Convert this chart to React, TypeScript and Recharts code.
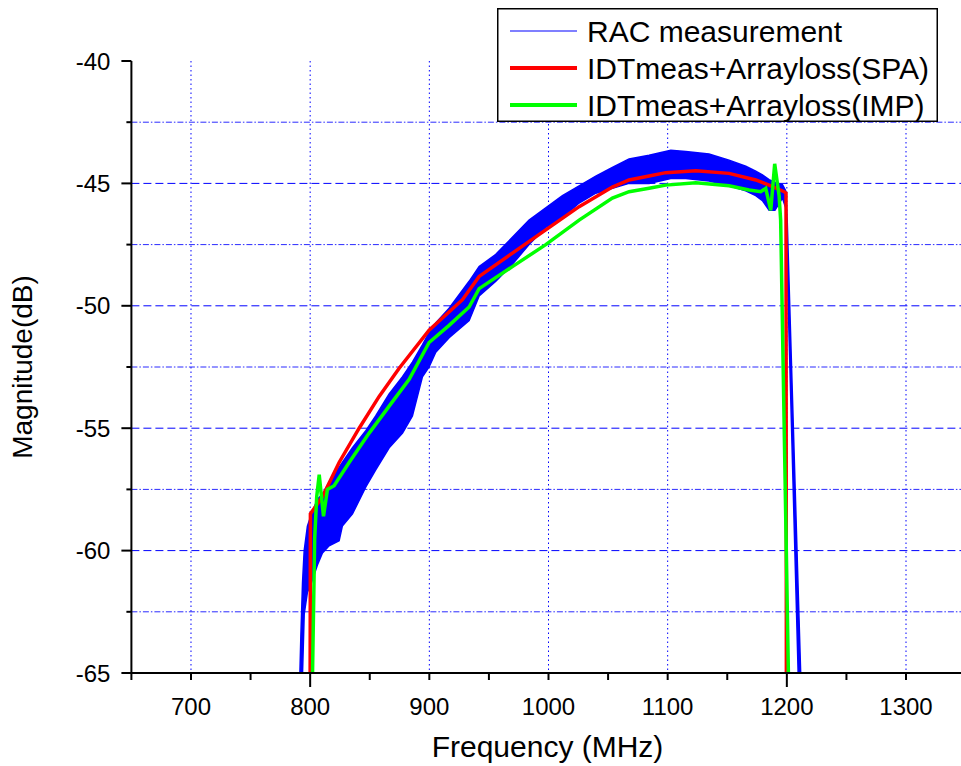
import React from 'react';
import {
  ComposedChart,
  Area,
  Line,
  XAxis,
  YAxis,
  CartesianGrid,
  Legend,
  Label,
} from 'recharts';

// RAC measurement: envelope (min / max) of the measured response
const bandFreq = [
  791.4, 792.2, 793.6, 795.0, 797.7, 800.5, 806.0, 810.3, 815.9, 824.3, 827.0, 835.5,
  846.7, 855.0, 866.3, 877.5, 885.8, 894.2, 899.8, 905.4, 916.6, 933.4, 941.8, 955.8,
  969.7, 983.7, 997.7, 1011.7, 1025.7, 1039.7, 1053.6, 1067.6, 1084.4, 1102.6, 1115.2,
  1134.7, 1151.5, 1165.5, 1173.9, 1179.5, 1185.1, 1190.0, 1196.3, 1199.0, 1200.3,
  1209.5, 1211.6,
];
const bandLow = [
  -65, -65, -65, -62.6, -61.7, -61.4, -60.6, -60.1, -59.8, -59.6, -59.0, -58.5,
  -57.4, -56.7, -55.8, -55.2, -54.5, -52.9, -52.5, -51.9, -51.3, -50.6, -49.6, -49.0,
  -48.3, -47.5, -46.8, -46.4, -45.8, -45.4, -45.2, -45.0, -45.0, -44.8, -44.8,
  -44.9, -45.1, -45.3, -45.5, -45.7, -46.1, -46.1, -45.6, -46.0, -48.4,
  -65, -65,
];
const bandHigh = [
  -65, -63.5, -61.3, -60.0, -59.0, -58.6, -57.9, -57.7, -57.2, -56.6, -56.4, -55.8,
  -55.1, -54.5, -53.6, -52.9, -52.3, -51.6, -51.1, -50.7, -50.1, -49.0, -48.4, -47.9,
  -47.2, -46.5, -46.0, -45.5, -45.1, -44.7, -44.35, -44.0, -43.85, -43.65, -43.7,
  -43.8, -44.05, -44.3, -44.5, -44.65, -44.85, -44.95, -45.05, -45.3, -46.5,
  -61.6, -65,
];

// IDTmeas + Arrayloss (SPA)
const spaFreq = [
  800.0, 800.2, 810.3, 824.3, 841.1, 857.9, 874.7, 899.8, 927.8, 941.8, 969.7, 997.7,
  1025.7, 1053.6, 1067.6, 1084.4, 1098.4, 1123.6, 1151.5, 1173.9, 1185.1, 1197.7,
  1199.3, 1199.6,
];
const spaDb = [
  -65, -58.5, -57.8, -56.4, -55.0, -53.7, -52.55, -51.0, -49.75, -48.8, -47.85, -46.9,
  -45.95, -45.15, -44.86, -44.7, -44.56, -44.48, -44.59, -44.86, -45.07, -45.34,
  -45.4, -65,
];

// IDTmeas + Arrayloss (IMP)
const impFreq = [
  802.0, 803.8, 805.5, 807.6, 809.5, 811.2, 814.5, 820.1, 832.7, 849.5, 866.3, 883.1,
  899.8, 916.6, 933.4, 941.8, 969.7, 997.7, 1025.7, 1053.6, 1067.6, 1084.4, 1098.4,
  1123.6, 1151.5, 1168.3, 1178.1, 1182.3, 1186.5, 1189.8, 1193.5, 1194.8, 1201.3,
];
const impDb = [
  -65, -59.5, -57.8, -56.9, -57.8, -58.6, -57.5, -57.35, -56.4, -55.2, -54.1, -53.0,
  -51.5, -50.8, -50.05, -49.3, -48.4, -47.5, -46.5, -45.6, -45.34, -45.2, -45.07,
  -44.97, -45.1, -45.27, -45.34, -45.2, -46.1, -44.2, -45.5, -46.5, -65,
];

// Axis ticks and grid positions
const xTicks = [650, 700, 750, 800, 850, 900, 950, 1000, 1050, 1100, 1150, 1200, 1250, 1300, 1350];
const xLabelTicks = [700, 800, 900, 1000, 1100, 1200, 1300];
const xLongTicks = [800, 1200];
const yTicks = [-65, -62.5, -60, -57.5, -55, -52.5, -50, -47.5, -45, -42.5, -40];
const yLabelTicks = [-65, -60, -55, -50, -45, -40];
const yMajorGrid = [-60, -55, -50, -45];
const yMinorGrid = [-62.5, -57.5, -52.5, -47.5, -42.5];

const legendItems = [
  { name: 'RAC measurement', color: '#0000ff', width: 1.2 },
  { name: 'IDTmeas+Arrayloss(SPA)', color: '#ff0000', width: 4 },
  { name: 'IDTmeas+Arrayloss(IMP)', color: '#00ff00', width: 4 },
];

const bandData = bandFreq.map((f, i) => ({ f, band: [bandLow[i], bandHigh[i]] }));
const spaData = spaFreq.map((f, i) => ({ f, v: spaDb[i] }));
const impData = impFreq.map((f, i) => ({ f, v: impDb[i] }));

const FONT = '"Liberation Sans", Arial, Helvetica, sans-serif';

const XTick = (props: any) => {
  const { x, y, payload } = props;
  const v = payload.value;
  const len = xLongTicks.includes(v) ? 14 : 7;
  return (
    <g>
      <line x1={x} x2={x} y1={y} y2={y + len} stroke="#000" strokeWidth={2} />
      {xLabelTicks.includes(v) && (
        <text x={x} y={y + 42} textAnchor="middle" fontSize={24} fontFamily={FONT} fill="#000">
          {v}
        </text>
      )}
    </g>
  );
};

const YTick = (props: any) => {
  const { x, y, payload } = props;
  const v = payload.value;
  const major = yLabelTicks.includes(v);
  return (
    <g>
      <line x1={x} x2={x - (major ? 10 : 5)} y1={y} y2={y} stroke="#000" strokeWidth={2} />
      {major && (
        <text x={x - 21} y={y} dy="0.36em" textAnchor="end" fontSize={24} fontFamily={FONT} fill="#000">
          {v}
        </text>
      )}
    </g>
  );
};

const XTitle = (props: any) => {
  const vb = props.viewBox || { x: 123.4, y: 665, width: 834.2, height: 93 };
  return (
    <text x={vb.x + vb.width / 2 - 1} y={vb.y + 84} textAnchor="middle" fontSize={30} fontFamily={FONT} fill="#000">
      Frequency (MHz)
    </text>
  );
};

const YTitle = (props: any) => {
  const vb = props.viewBox || { x: 0, y: 53, width: 123.4, height: 612 };
  const cx = vb.x + 24;
  const cy = vb.y + vb.height / 2;
  return (
    <text
      x={cx}
      y={cy}
      transform={`rotate(-90, ${cx}, ${cy})`}
      textAnchor="middle"
      fontSize={28}
      fontFamily={FONT}
      fill="#000"
    >
      Magnitude(dB)
    </text>
  );
};

const LegendBox = () => (
  <svg width={441} height={114} style={{ display: 'block' }}>
    <rect x={0.75} y={0.75} width={439.5} height={112.5} fill="#fff" stroke="#000" strokeWidth={1.5} />
    {legendItems.map((item, i) => {
      const cy = 23 + i * 37;
      return (
        <g key={item.name}>
          <line x1={13} x2={80} y1={cy} y2={cy} stroke={item.color} strokeWidth={item.width} />
          <text x={90} y={cy} dy="0.36em" fontSize={30} fontFamily={FONT} fill="#000">
            {item.name}
          </text>
        </g>
      );
    })}
  </svg>
);

export default function App() {
  return (
    <div
      style={{
        position: 'fixed',
        left: 0,
        top: 0,
        width: 961,
        height: 766,
        overflow: 'hidden',
        background: '#fff',
      }}
    >
      <div style={{ position: 'absolute', left: 8, top: 8 }}>
        <ComposedChart
          width={970}
          height={758}
          margin={{ top: 53, right: 12.4, left: 0, bottom: 0 }}
        >
          <CartesianGrid
            horizontal={false}
            verticalValues={xLabelTicks}
            stroke="#0000ff"
            strokeWidth={1}
            strokeDasharray="1.5 3"
          />
          <CartesianGrid
            vertical={false}
            horizontalValues={yMajorGrid}
            stroke="#0000ff"
            strokeWidth={1}
            strokeDasharray="8 4"
          />
          <CartesianGrid
            vertical={false}
            horizontalValues={yMinorGrid}
            stroke="#2a2aff"
            strokeWidth={1}
            strokeDasharray="6 2 1.5 2"
          />
          <XAxis
            type="number"
            dataKey="f"
            domain={[650, 1350]}
            ticks={xTicks}
            interval={0}
            allowDataOverflow
            height={93}
            tickSize={0}
            tickMargin={0}
            tickLine={false}
            tick={<XTick />}
            axisLine={{ stroke: '#000', strokeWidth: 2 }}
          >
            <Label content={<XTitle />} />
          </XAxis>
          <YAxis
            type="number"
            domain={[-65, -40]}
            ticks={yTicks}
            interval={0}
            allowDataOverflow
            width={123.4}
            tickSize={0}
            tickMargin={0}
            tickLine={false}
            tick={<YTick />}
            axisLine={{ stroke: '#000', strokeWidth: 2 }}
          >
            <Label content={<YTitle />} />
          </YAxis>
          <Area
            data={bandData}
            dataKey="band"
            type="linear"
            stroke="#0000ff"
            strokeWidth={1.5}
            fill="#0000ff"
            fillOpacity={1}
            isAnimationActive={false}
            dot={false}
            activeDot={false}
          />
          <Line
            data={spaData}
            dataKey="v"
            type="linear"
            stroke="#ff0000"
            strokeWidth={3.5}
            dot={false}
            activeDot={false}
            isAnimationActive={false}
          />
          <Line
            data={impData}
            dataKey="v"
            type="linear"
            stroke="#00ff00"
            strokeWidth={3.5}
            dot={false}
            activeDot={false}
            isAnimationActive={false}
          />
          <Legend
            layout="horizontal"
            verticalAlign="middle"
            align="center"
            wrapperStyle={{ top: 0, left: 489, width: 441, height: 114 }}
            content={() => <LegendBox />}
          />
        </ComposedChart>
      </div>
    </div>
  );
}
